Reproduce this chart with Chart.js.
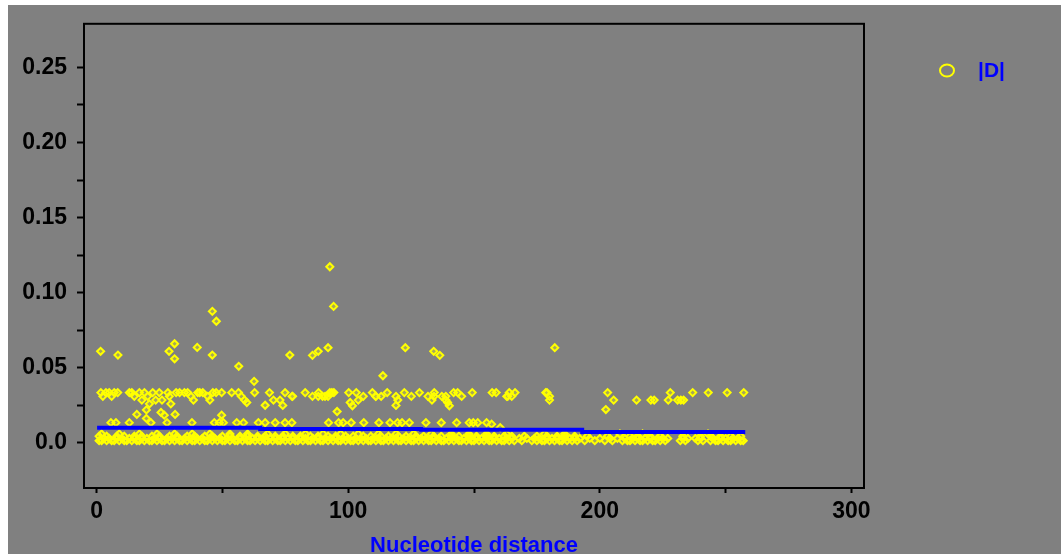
<!DOCTYPE html>
<html><head><meta charset="utf-8">
<script src="https://cdn.jsdelivr.net/npm/chart.js@4.4.1/dist/chart.umd.min.js"></script>
<style>html,body{margin:0;padding:0;background:#fff;overflow:hidden}#wrap{width:1061px;height:554px;position:relative}canvas{display:block}</style>
</head><body><div id="wrap"><canvas id="c" width="1061" height="554"></canvas></div>
<script>
// ---- data ----
const xTickValues = [0, 50, 100, 150, 200, 250, 300];
const xLabelValues = [0, 100, 200, 300];
const yTickValues = [0, 0.025, 0.05, 0.075, 0.1, 0.125, 0.15, 0.175, 0.2, 0.225, 0.25];

// blue step line (bin means)
const lineX = [1, 65, 129, 193, 257];
const lineY = [0.0101, 0.0093, 0.0087, 0.0072, 0.0072];

// individual |D| points with their own values
const miscX = [1.6, 8.5, 28.8, 31, 31, 40, 46, 47.6, 46, 56.5, 62.6, 76.8, 85.8, 88.1, 92, 92.7, 94.2, 113.8, 122.7, 134, 136.4, 182.1,
  21, 29.5, 59.7, 67, 74, 100.8, 101.7, 119, 139.5, 140.2, 202.4, 16, 19.8, 19.8, 25.6, 26.9, 31.2, 49.7, 95.6, 157, 160.4];
const miscY = [0.061, 0.0585, 0.061, 0.066, 0.056, 0.0636, 0.0876, 0.081, 0.0585, 0.051, 0.041, 0.0585, 0.0583, 0.061, 0.0634, 0.1173, 0.0909, 0.0447, 0.0634, 0.061, 0.0583, 0.0634,
  0.026, 0.026, 0.0269, 0.0251, 0.025, 0.0269, 0.0247, 0.025, 0.0269, 0.0247, 0.0222, 0.019, 0.022, 0.0163, 0.0203, 0.0185, 0.019, 0.0185, 0.0209, 0.0125, 0.0102];

// rows of |D| points sharing (nearly) the same value
const row0335X = [1.7, 3.7, 5, 7, 8.4, 13, 14, 17, 19, 22.3, 24.9, 28.3, 31.6, 33, 34.9, 36.2, 40.2, 41, 42.2, 46.2, 47.5, 49.7, 53.7, 56.4, 62.8, 68.7, 74.9, 82.9, 88.2, 92.7, 93.5, 94.3, 100.2, 103.2, 109.6, 115.5, 122.3, 128.3, 134.2, 141.9, 143.5, 149.3, 157.2, 158.8, 164, 166.3, 178.5, 179, 203.1, 228, 236.9, 243.1, 250.6, 257.2];
const row031X = [2.5, 6, 15, 20.3, 28.9, 37.5, 44.2, 57.5, 77.7, 77.9, 85.8, 88.1, 89.8, 90.8, 92, 106, 110.9, 111, 113.1, 119, 125.1, 131.7, 134.1, 137.2, 138.8, 145.1, 163, 163.4, 165, 180];
const row0285X = [18, 23.5, 26, 38.5, 45, 58.8, 70.3, 72.9, 104, 119.7, 133.3, 138.8, 180, 205.5, 214.6, 220.3, 221.6, 227.2, 230.9, 232.2, 233.3];
const row0135X = [5.7, 7.7, 13, 21.6, 28, 37.9, 46.8, 48.8, 50.4, 55.7, 58.4, 64.3, 67, 71, 74.9, 77.6, 92.2, 96.2, 98, 101.2, 106.2, 112.2, 116.6, 119.6, 121.4, 124.3, 130.9, 137, 143.1, 148.1, 149.7, 151.5, 155];
const row006X = [2, 9, 17, 24, 31, 38, 45, 53, 60, 68, 75, 83, 90, 97, 104, 112, 119, 126, 133, 141, 148, 155, 163, 178, 186, 208, 217, 243];
const row0045X = [1, 4, 8, 11, 15, 18, 22, 25, 29, 32, 36, 39, 43, 46, 50, 53, 57, 60, 64, 67, 71, 74, 78, 81, 85, 88, 92, 95, 99, 102, 106, 109, 113, 116, 120, 123, 127, 130, 134, 137, 141, 144, 148, 151, 155, 158, 162, 165, 170, 175, 179, 183, 186, 190, 195, 203, 212, 215, 220, 224, 233, 240, 244, 248, 252, 256];
const row003X = [3, 5, 8, 10, 13, 15, 18, 20, 23, 25, 28, 30, 32, 35, 37, 40, 42, 45, 47, 49, 52, 54, 57, 59, 62, 64, 66, 69, 71, 74, 76, 78, 81, 83, 86, 88, 91, 93, 95, 98, 100, 103, 105, 107, 110, 112, 115, 117, 119, 122, 124, 127, 129, 131, 134, 136, 139, 141, 143, 146, 148, 151, 153, 155, 158, 160, 163, 165, 168, 171, 174, 176, 179, 181, 183, 186, 188, 190, 192, 196, 200, 204, 207, 210, 213, 215, 218, 220, 223, 225, 227, 233, 235, 238, 240, 245, 248, 250, 253, 255];
const row0015X = [1, 2, 4, 6, 7, 9, 11, 12, 14, 16, 17, 19, 21, 22, 24, 26, 27, 29, 31, 33, 34, 36, 38, 39, 41, 43, 44, 46, 48, 50, 51, 53, 55, 56, 58, 60, 61, 63, 65, 67, 68, 70, 72, 73, 75, 77, 79, 80, 82, 84, 85, 87, 89, 90, 92, 94, 96, 97, 99, 101, 102, 104, 106, 108, 109, 111, 113, 114, 116, 118, 120, 121, 123, 125, 126, 128, 130, 132, 133, 135, 137, 138, 140, 142, 144, 145, 147, 149, 150, 152, 154, 156, 157, 159, 161, 162, 164, 166, 169, 173, 175, 177, 178, 180, 182, 184, 185, 187, 189, 191, 194, 198, 202, 205, 209, 211, 212, 214, 216, 217, 219, 221, 222, 224, 226, 232, 234, 239, 241, 244, 246, 247, 249, 251, 252, 254, 256, 257];
const rowLevels = [0.0335, 0.031, 0.0285, 0.0135, 0.006, 0.0045, 0.003, 0.0015];
const rowXs = [row0335X, row031X, row0285X, row0135X, row006X, row0045X, row003X, row0015X];

// ---- build datasets ----
const scatterPts = [];
miscX.forEach((x, i) => scatterPts.push({x: x, y: miscY[i]}));
rowXs.forEach((xs, r) => xs.forEach(x => scatterPts.push({x: x, y: rowLevels[r]})));
const linePts = lineX.map((x, i) => ({x: x, y: lineY[i]}));

Chart.defaults.font.family = "'Liberation Sans', Arial, sans-serif";
Chart.defaults.color = '#000';

const bgPlugin = {
  id: 'bg',
  beforeDraw(chart) {
    const c = chart.ctx;
    c.save();
    c.fillStyle = '#ffffff';
    c.fillRect(0, 0, chart.width, chart.height);
    c.fillStyle = '#808080';
    c.fillRect(8, 5, chart.width - 8, chart.height - 5);
    c.restore();
  },
  afterDraw(chart) {
    const c = chart.ctx, a = chart.chartArea;
    c.save();
    c.strokeStyle = '#000';
    c.lineWidth = 2;
    c.strokeRect(a.left, a.top, a.right - a.left, a.bottom - a.top);
    // legend
    const ds = chart.data.datasets[1];
    c.strokeStyle = '#ffff00';
    c.lineWidth = 2;
    c.beginPath();
    c.ellipse(947, 70.5, 7, 6, 0, 0, Math.PI * 2);
    c.stroke();
    c.fillStyle = '#0000ff';
    c.font = "bold 21px 'Liberation Sans', Arial, sans-serif";
    c.textBaseline = 'middle';
    c.textAlign = 'left';
    c.fillText(ds.label, 978, 71);
    c.restore();
  }
};

new Chart(document.getElementById('c'), {
  type: 'scatter',
  data: {
    datasets: [
      {
        label: 'mean', type: 'line', data: linePts, showLine: true, stepped: true,
        borderColor: '#0000ff', borderWidth: 4, borderCapStyle: 'square', pointRadius: 0, fill: false, order: 0
      },
      {
        label: '|D|', data: scatterPts, pointStyle: 'rectRot', pointRadius: 3.5, pointBorderWidth: 2,
        borderColor: '#ffff00', backgroundColor: 'rgba(255,255,0,0.3)', order: 1
      }
    ]
  },
  options: {
    responsive: false, animation: false, devicePixelRatio: 1, events: [],
    layout: {padding: {left: 0, top: 20, right: 197, bottom: 0}},
    plugins: {legend: {display: false}, tooltip: {enabled: false}},
    scales: {
      x: {
        type: 'linear', min: -5, max: 305,
        afterBuildTicks: s => { s.ticks = xTickValues.map(v => ({value: v})); },
        afterFit: s => { s.height = 66; },
        ticks: {
          autoSkip: false, maxRotation: 0, padding: 5, color: '#000',
          font: {size: 23, weight: 'bold'},
          callback: v => xLabelValues.includes(v) ? String(v) : ''
        },
        grid: {drawOnChartArea: false, drawTicks: true, tickLength: 5, tickWidth: 2, tickColor: '#000'},
        border: {display: false},
        title: {display: true, text: 'Nucleotide distance', color: '#0000ff',
          font: {size: 22, weight: 'bold', lineHeight: 1}, padding: {top: 0, bottom: -3}}
      },
      y: {
        type: 'linear', min: -0.03, max: 0.279,
        afterBuildTicks: s => { s.ticks = yTickValues.map(v => ({value: v})); },
        afterFit: s => { s.width = 84; },
        ticks: {
          autoSkip: false, padding: 10, color: '#000',
          font: {size: 23, weight: 'bold'},
          callback: v => {
            const q = v / 0.05;
            if (Math.abs(q - Math.round(q)) > 1e-6) return '';
            return Math.abs(v) < 1e-9 ? '0.0' : v.toFixed(2);
          }
        },
        grid: {drawOnChartArea: false, drawTicks: true, tickLength: 7, tickWidth: 2, tickColor: '#000'},
        border: {display: false}
      }
    }
  },
  plugins: [bgPlugin]
});
</script></body></html>
